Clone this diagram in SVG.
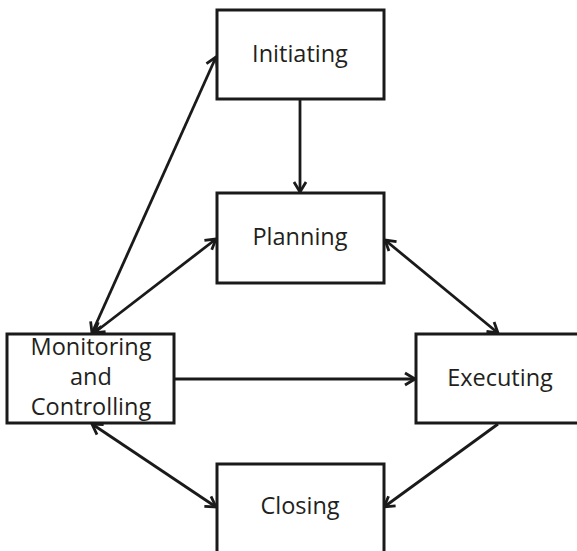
<svg xmlns="http://www.w3.org/2000/svg" width="577" height="551" viewBox="0 0 577 551">
<style>
.box{fill:#fff;stroke:#1a1a1a;stroke-width:3}
.lbl{font-family:"Open Sans","Noto Sans","Liberation Sans",sans-serif;font-size:23.5px;fill:#231f20;text-anchor:middle}
.con{fill:none;stroke:#1a1a1a;stroke-width:2.8}
</style>
<defs>
<marker id="ah" viewBox="-13 -8 15 16" refX="0" refY="0" markerUnits="userSpaceOnUse" markerWidth="15" markerHeight="16" orient="auto-start-reverse">
<path d="M-10,-6 L0,0 L-10,6" fill="none" stroke="#1a1a1a" stroke-width="2.8"/>
</marker>
</defs>
<rect width="577" height="551" fill="#fff"/>
<g id="connectors">
<path class="con" d="M300,99 L300,192" marker-end="url(#ah)"/>
<path class="con" d="M92,333 L216,57" marker-start="url(#ah)" marker-end="url(#ah)"/>
<path class="con" d="M94,333 L216,239" marker-start="url(#ah)" marker-end="url(#ah)"/>
<path class="con" d="M385,240 L498,333" marker-start="url(#ah)" marker-end="url(#ah)"/>
<path class="con" d="M174,379 L415,379" marker-end="url(#ah)"/>
<path class="con" d="M92,424 L216,507" marker-start="url(#ah)" marker-end="url(#ah)"/>
<path class="con" d="M498,424 L384,507" marker-end="url(#ah)"/>
</g>
<g id="initiating">
<rect class="box" x="217" y="10" width="167" height="89"/>
<text class="lbl" x="300" y="62">Initiating</text>
</g>
<g id="planning">
<rect class="box" x="217" y="193" width="167" height="90"/>
<text class="lbl" x="300" y="245">Planning</text>
</g>
<g id="monitoring">
<rect class="box" x="7" y="334" width="167" height="89"/>
<text class="lbl" x="91" y="355">Monitoring</text>
<text class="lbl" x="91" y="385">and</text>
<text class="lbl" x="91" y="415">Controlling</text>
</g>
<g id="executing">
<rect class="box" x="416" y="334" width="167" height="89"/>
<text class="lbl" x="500" y="386">Executing</text>
</g>
<g id="closing">
<rect class="box" x="217" y="464" width="167" height="89"/>
<text class="lbl" x="300" y="514">Closing</text>
</g>
</svg>
